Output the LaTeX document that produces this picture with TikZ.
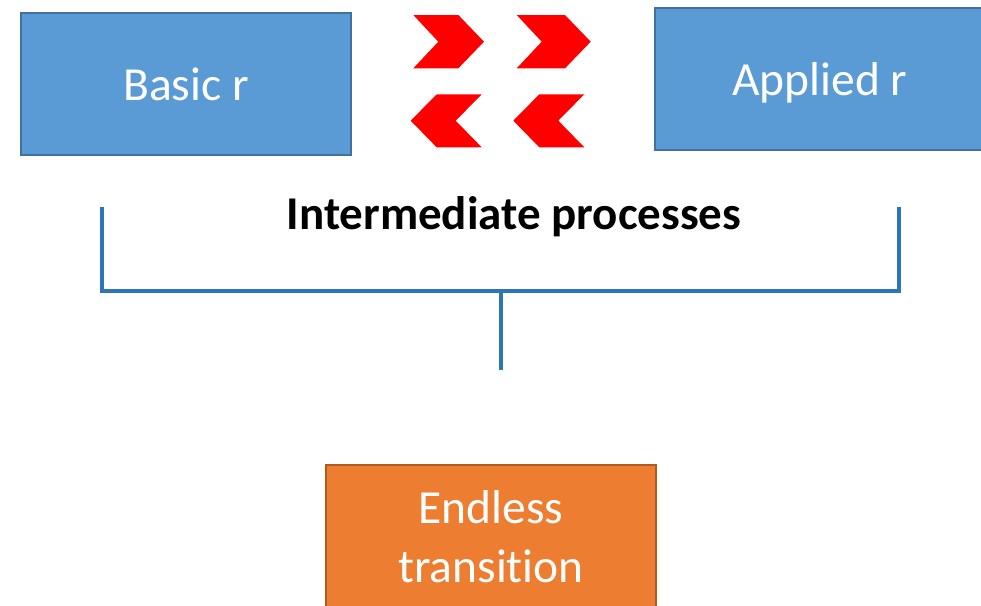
\documentclass[tikz,border=0pt]{standalone}
\usepackage{fontspec}
\setmainfont[Ligatures=NoCommon]{Carlito}
\definecolor{boxblue}{HTML}{5B9BD5}
\definecolor{boxblueedge}{HTML}{41719C}
\definecolor{boxorange}{HTML}{ED7D31}
\definecolor{boxorangeedge}{HTML}{AE5A21}
\definecolor{bracketblue}{HTML}{2E75B6}
\tikzset{
  bluebox/.style={draw=boxblueedge, fill=boxblue, line width=1.5pt, inner sep=0pt},
  orangebox/.style={draw=boxorangeedge, fill=boxorange, line width=1.5pt, inner sep=0pt},
  boxlabel/.style={text=white, font=\fontsize{47.5}{58}\selectfont, anchor=base, inner sep=0pt},
  chevron/.style={fill=red, draw=none},
  bracket/.style={draw=bracketblue, line width=4.5pt}
}
\begin{document}
\begin{tikzpicture}[x=1pt, y=-1pt]
  \useasboundingbox (0,0) rectangle (981,605);
  \clip (0,0) rectangle (981,605);

  % the two research boxes and the result box
  \node[bluebox, minimum width=330pt, minimum height=142pt] (basic) at (186,84) {};
  \node[boxlabel] (basiclabel) at (186,100) {Basic r};

  \node[bluebox, minimum width=330pt, minimum height=142pt] (applied) at (820,79) {};
  \node[boxlabel] (appliedlabel) at (820,95) {Applied r};

  \node[orangebox, minimum width=330pt, minimum height=170pt] (endless) at (491,550) {};
  \node[boxlabel] (endlesslabel) at (491,523) {Endless};
  \node[boxlabel] (transitionlabel) at (491,582) {transition};

  % chevrons pointing right
  \fill[chevron] (413.3,15) -- (458.3,15) -- (484,41.7) -- (458.3,68.3) -- (413.3,68.3) -- (438.3,41.7) -- cycle;
  \fill[chevron] (516.7,15) -- (565,15) -- (590.7,41.7) -- (565,68.3) -- (516.7,68.3) -- (541.7,41.7) -- cycle;
  % chevrons pointing left
  \fill[chevron] (481.7,94.3) -- (436.7,94.3) -- (410.7,120.7) -- (436.7,147.3) -- (481.7,147.3) -- (455.7,120.7) -- cycle;
  \fill[chevron] (584.3,94.3) -- (539.3,94.3) -- (513.3,120.7) -- (539.3,147.3) -- (584.3,147.3) -- (558.3,120.7) -- cycle;

  % heading over the bracket
  \node[anchor=base, inner sep=0pt, font=\fontsize{47}{58}\selectfont\bfseries] (heading) at (514,229) {Intermediate processes};

  % bracket joining both sides and its stem
  \coordinate (lefttop) at (102,207);
  \coordinate (righttop) at (899,207);
  \coordinate (join) at (501,291);
  \coordinate (stemend) at (501,370);
  \draw[bracket] (lefttop) |- (join) -| (righttop);
  \draw[bracket] (join) -- (stemend);
\end{tikzpicture}
\end{document}
